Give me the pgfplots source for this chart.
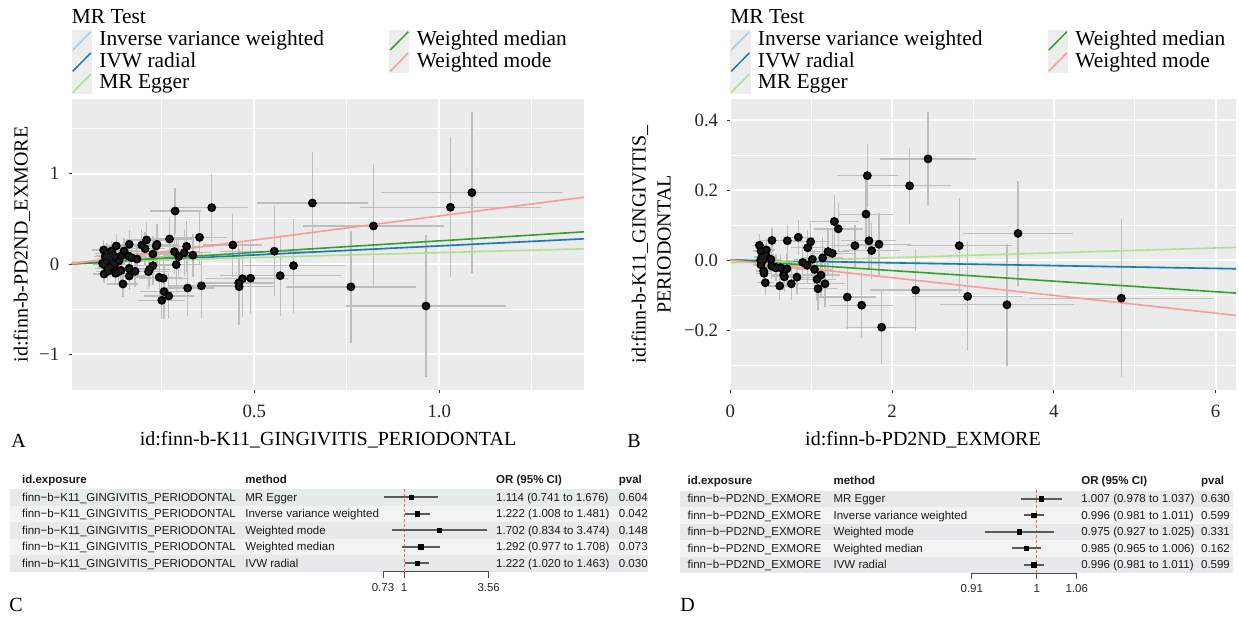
\documentclass[border=0pt]{standalone}
\usepackage{fontspec}
\setmainfont{Liberation Serif}
\newfontfamily\tabsans{Liberation Sans}
\usepackage{pgfplots}
\usepackage{pgfplotstable}
\pgfplotsset{compat=1.18}

\definecolor{ggbg}{HTML}{EBEBEB}
\definecolor{keybg}{HTML}{EDEDED}
\definecolor{errgray}{HTML}{BEBEBE}
\definecolor{ptblack}{HTML}{1A1A1A}
\definecolor{ivwlight}{HTML}{A6CEE3}
\definecolor{ivwdark}{HTML}{1F78B4}
\definecolor{eggergreen}{HTML}{B2DF8A}
\definecolor{wmedgreen}{HTML}{33A02C}
\definecolor{wmodepink}{HTML}{FB9A99}
\definecolor{rowdark}{HTML}{E6EAEB}
\definecolor{rowlight}{HTML}{F2F4F4}
\definecolor{refred}{HTML}{EE6A4D}
\definecolor{cigray}{HTML}{5A5A5A}

\newcommand{\titlefont}{\fontsize{10}{12}\selectfont}
\newcommand{\legfont}{\fontsize{10.7}{12}\selectfont}
\newcommand{\tickfont}{\fontsize{9.4}{11}\selectfont}
\newcommand{\tabfont}{\tabsans\fontsize{5.75}{7}\selectfont}

% SNP estimates: beta on exposure (x), beta on outcome (y), their se (ex, ey)
\pgfplotstableread{
x y ex ey
1.088 0.790 0.246 0.895
1.030 0.628 0.244 0.775
0.822 0.421 0.190 0.683
0.657 0.675 0.150 0.563
0.761 -0.253 0.175 0.620
0.964 -0.465 0.217 0.785
0.385 0.624 0.097 0.375
0.286 0.587 0.069 0.260
0.352 0.295 0.075 0.308
0.442 0.210 0.080 0.354
0.554 0.142 0.146 0.500
0.606 -0.018 0.140 0.520
0.570 -0.129 0.164 0.452
0.490 -0.157 0.100 0.400
0.468 -0.163 0.100 0.420
0.458 -0.209 0.095 0.420
0.459 -0.251 0.095 0.420
0.357 -0.242 0.090 0.360
0.320 -0.266 0.070 0.310
0.254 -0.158 0.065 0.280
0.243 -0.147 0.062 0.270
0.256 -0.306 0.065 0.300
0.269 -0.354 0.068 0.250
0.250 -0.402 0.064 0.210
0.289 -0.007 0.070 0.300
0.311 0.125 0.072 0.260
0.317 0.195 0.074 0.280
0.334 0.097 0.078 0.240
0.296 0.082 0.070 0.220
0.284 0.137 0.068 0.250
0.271 0.277 0.066 0.240
0.237 0.218 0.060 0.220
0.235 0.200 0.060 0.200
0.209 0.266 0.055 0.200
0.196 0.210 0.052 0.180
0.205 0.169 0.054 0.190
0.226 0.111 0.058 0.200
0.226 -0.018 0.058 0.210
0.217 -0.059 0.056 0.200
0.214 -0.085 0.056 0.190
0.178 -0.081 0.048 0.170
0.162 -0.133 0.045 0.160
0.162 -0.048 0.045 0.150
0.145 -0.221 0.042 0.140
0.162 0.218 0.045 0.160
0.183 0.055 0.050 0.170
0.168 0.070 0.046 0.150
0.148 0.144 0.042 0.140
0.127 0.200 0.038 0.130
0.140 0.089 0.040 0.130
0.134 0.033 0.039 0.120
0.123 -0.004 0.037 0.120
0.140 -0.070 0.040 0.130
0.133 -0.085 0.039 0.120
0.125 -0.103 0.037 0.120
0.111 -0.033 0.034 0.110
0.104 -0.081 0.033 0.110
0.094 -0.111 0.031 0.100
0.094 -0.007 0.031 0.100
0.093 0.155 0.031 0.110
0.102 0.118 0.032 0.110
0.106 0.089 0.033 0.100
0.114 0.144 0.035 0.110
0.117 0.107 0.035 0.100
0.097 0.081 0.031 0.100
0.109 0.063 0.034 0.100
0.115 0.026 0.035 0.100
0.099 0.026 0.032 0.100
0.090 0.007 0.030 0.090
0.103 -0.048 0.033 0.100
0.123 0.081 0.037 0.110
0.160 0.089 0.045 0.140
}\snpsA

\pgfplotstableread{
x y ex ey
2.444 0.289 0.595 0.133
1.694 0.241 0.380 0.090
2.217 0.212 0.505 0.108
1.677 0.131 0.340 0.100
1.286 0.110 0.310 0.076
1.335 0.089 0.300 0.074
2.830 0.041 0.650 0.136
2.934 -0.104 0.690 0.156
2.291 -0.086 0.570 0.117
1.871 -0.192 0.440 0.105
1.446 -0.106 0.350 0.090
1.624 -0.129 0.390 0.095
1.541 0.041 0.300 0.060
1.714 0.055 0.340 0.080
1.747 0.027 0.350 0.080
1.838 0.045 0.400 0.090
1.261 0.019 0.270 0.070
1.207 0.024 0.260 0.065
1.142 0.006 0.250 0.060
1.171 -0.068 0.250 0.065
1.084 -0.082 0.240 0.060
1.072 -0.055 0.235 0.060
1.121 -0.043 0.240 0.060
1.042 -0.027 0.230 0.055
1.014 0.002 0.225 0.055
0.994 0.052 0.220 0.055
0.956 0.035 0.210 0.050
0.950 -0.015 0.210 0.050
0.895 -0.007 0.200 0.050
0.841 0.065 0.190 0.050
0.824 -0.049 0.185 0.048
0.754 -0.068 0.170 0.045
0.700 -0.025 0.160 0.045
0.705 0.055 0.160 0.045
0.660 -0.043 0.150 0.042
0.668 -0.048 0.150 0.042
0.611 -0.074 0.140 0.040
0.623 -0.022 0.140 0.040
0.557 -0.022 0.130 0.038
0.511 -0.017 0.120 0.036
0.515 0.056 0.120 0.036
0.503 0.002 0.120 0.035
0.433 -0.065 0.105 0.034
0.417 -0.038 0.100 0.033
0.412 -0.031 0.100 0.033
0.379 -0.014 0.095 0.032
0.359 0.042 0.090 0.032
0.379 0.026 0.095 0.032
0.392 0.009 0.095 0.032
0.412 0.005 0.100 0.032
0.445 0.029 0.105 0.033
0.437 0.015 0.105 0.033
0.400 -0.001 0.098 0.032
0.375 -0.001 0.092 0.031
0.573 -0.022 0.132 0.038
3.556 0.076 0.680 0.151
3.420 -0.128 0.830 0.174
4.833 -0.109 1.130 0.225
}\snpsB

\pgfplotsset{
  mrscatter/.style={
    scale only axis, clip=true,
    axis background/.style={fill=ggbg},
    axis line style={draw=none},
    xmajorgrids, ymajorgrids, xminorgrids, yminorgrids,
    major grid style={white, line width=1pt},
    minor grid style={white, line width=0.5pt},
    tick align=outside, tick pos=left,
    major tick length=1.5pt, minor tick length=0pt,
    tick style={black!80, line width=0.5pt},
    xticklabel style={font=\tickfont, inner sep=0pt, yshift=-5.8pt, text=black!85},
    yticklabel style={font=\tickfont, inner sep=0pt, text=black!85},
    legend style={draw=none, fill=none, anchor=north west, inner sep=0pt, outer sep=0pt,
      row sep=0pt, column sep=0pt, font=\legfont,
      nodes={inner sep=0pt, inner xsep=3.7pt, text height=7.6pt, text depth=2.6pt}},
    legend cell align=left, legend columns=2,
    legend image code/.code={
      \fill[keybg, draw=none] (0pt,-5.3pt) rectangle (10.25pt,5.3pt);
      \draw[line width=0.75pt] (0.6pt,-4.6pt) -- (9.65pt,4.6pt);
    },
  },
  snpbars/.style={forget plot, only marks, mark=none,
    error bars/.cd, x dir=both, x explicit, y dir=both, y explicit, error mark=none,
    error bar style={errgray, line width=0.65pt}},
  forestax/.style={
    scale only axis, clip=false,
    ymin=0.5, ymax=5.5, height=41.25pt,
    axis x line*=bottom, axis y line=none,
    x axis line style={-, black!70, line width=0.5pt},
    ytick=\empty, xminorticks=false,
    tick align=outside, major tick length=3pt,
    xtick style={black!70, line width=0.5pt},
    xticklabel style={font=\tabfont, inner sep=0pt, yshift=-2.75pt, text=black!85},
  },
}

\begin{document}
\begin{tikzpicture}
\useasboundingbox (0,0) rectangle (619.5pt,309pt);

% ---------- table shading (C and D) ----------
\fill[rowdark]  (5pt,56.25pt) rectangle (324pt,64.5pt);
\fill[rowlight] (5pt,48pt)    rectangle (324pt,56.25pt);
\fill[rowdark]  (5pt,39.75pt) rectangle (324pt,48pt);
\fill[rowlight] (5pt,31.5pt)  rectangle (324pt,39.75pt);
\fill[rowdark]  (5pt,23.25pt) rectangle (324pt,31.5pt);
\fill[rowdark]  (340pt,55.5pt)  rectangle (616.5pt,63.75pt);
\fill[rowlight] (340pt,47.25pt) rectangle (616.5pt,55.5pt);
\fill[rowdark]  (340pt,39pt)    rectangle (616.5pt,47.25pt);
\fill[rowlight] (340pt,30.75pt) rectangle (616.5pt,39pt);
\fill[rowdark]  (340pt,22.5pt)  rectangle (616.5pt,30.75pt);

% ---------- A ----------
\begin{axis}[mrscatter, at={(35.75pt,114pt)}, anchor=south west,
  width=256.25pt, height=145.5pt,
  xmin=0.006, xmax=1.391, ymin=-1.395, ymax=1.827,
  xtick={0.5,1}, xticklabels={0.5,1.0}, minor xtick={0.25,0.75,1.25},
  ytick={-1,0,1}, yticklabels={−1,0,1}, minor ytick={-0.5,0.5,1.5},
  yticklabel style={xshift=-4.45pt},
  legend style={at={(axis description cs:0,1.236)}}]
\addlegendimage{ivwlight}\addlegendentry{\makebox[141.1pt][l]{Inverse variance weighted}}
\addlegendimage{wmedgreen}\addlegendentry{Weighted median}
\addlegendimage{ivwdark}\addlegendentry{\makebox[141.1pt][l]{IVW radial}}
\addlegendimage{wmodepink}\addlegendentry{Weighted mode}
\addlegendimage{eggergreen}\addlegendentry{\makebox[141.1pt][l]{MR Egger}}
\addplot[snpbars] table[x=x, y=y, x error=ex, y error=ey] {\snpsA};
\addplot[forget plot, only marks, mark=*, mark size=1pt, color=ptblack] table[x=x, y=y] {\snpsA};
\addplot[forget plot, ivwlight, line width=0.8pt]   coordinates {(0,0) (1.45,0.2907)};
\addplot[forget plot, ivwdark, line width=0.8pt]    coordinates {(0,0) (1.45,0.2907)};
\addplot[forget plot, eggergreen, line width=0.8pt] coordinates {(0,0.018) (1.45,0.1746)};
\addplot[forget plot, wmedgreen, line width=0.8pt]  coordinates {(0,0) (1.45,0.3715)};
\addplot[forget plot, wmodepink, line width=0.8pt]  coordinates {(0,0) (1.45,0.7711)};
\end{axis}

% ---------- B ----------
\begin{axis}[mrscatter, at={(364.75pt,114pt)}, anchor=south west,
  width=253.25pt, height=145.5pt,
  xmin=-0.0099, xmax=6.251, ymin=-0.3714, ymax=0.46,
  xtick={0,2,4,6}, xticklabels={0,2,4,6}, minor xtick={1,3,5},
  ytick={-0.2,0,0.2,0.4}, yticklabels={−0.2,0.0,0.2,0.4}, minor ytick={-0.3,-0.1,0.1,0.3},
  yticklabel style={xshift=-4pt},
  legend style={at={(axis description cs:0.001,1.236)}}]
\addlegendimage{ivwlight}\addlegendentry{\makebox[141.1pt][l]{Inverse variance weighted}}
\addlegendimage{wmedgreen}\addlegendentry{Weighted median}
\addlegendimage{ivwdark}\addlegendentry{\makebox[141.1pt][l]{IVW radial}}
\addlegendimage{wmodepink}\addlegendentry{Weighted mode}
\addlegendimage{eggergreen}\addlegendentry{\makebox[141.1pt][l]{MR Egger}}
\addplot[snpbars] table[x=x, y=y, x error=ex, y error=ey] {\snpsB};
\addplot[forget plot, only marks, mark=*, mark size=1pt, color=ptblack] table[x=x, y=y] {\snpsB};
\addplot[forget plot, ivwlight, line width=0.8pt]   coordinates {(0,0) (6.4,-0.02565)};
\addplot[forget plot, ivwdark, line width=0.8pt]    coordinates {(0,0) (6.4,-0.02565)};
\addplot[forget plot, eggergreen, line width=0.8pt] coordinates {(0,-0.0074) (6.4,0.0372)};
\addplot[forget plot, wmedgreen, line width=0.8pt]  coordinates {(0,0) (6.4,-0.0967)};
\addplot[forget plot, wmodepink, line width=0.8pt]  coordinates {(0,0) (6.4,-0.1620)};
\end{axis}

% ---------- C forest ----------
\begin{axis}[xmode=log, forestax, at={(191.5pt,23.25pt)}, anchor=south west, width=52.85pt,
  xmin=0.73, xmax=3.56, xtick={0.73,1,3.56}, xticklabels={0.73,1,3.56}]
\addplot[refred, line width=0.5pt, dash pattern=on 1.5pt off 1pt] coordinates {(1,0.5) (1,5.5)};
\addplot[cigray, line width=0.8pt] coordinates {(0.741,5) (1.676,5)};
\addplot[cigray, line width=0.8pt] coordinates {(1.008,4) (1.481,4)};
\addplot[cigray, line width=0.8pt] coordinates {(0.834,3) (3.474,3)};
\addplot[cigray, line width=0.8pt] coordinates {(0.977,2) (1.708,2)};
\addplot[cigray, line width=0.8pt] coordinates {(1.020,1) (1.463,1)};
\addplot[only marks, mark=square*, mark size=1.1pt, black]
  coordinates {(1.114,5) (1.222,4) (1.702,3) (1.292,2) (1.222,1)};
\end{axis}

% ---------- D forest ----------
\begin{axis}[xmode=log, forestax, at={(485.9pt,22.5pt)}, anchor=south west, width=52.5pt,
  xmin=0.91, xmax=1.06, xtick={0.91,1,1.06}, xticklabels={0.91,1,1.06}]
\addplot[refred, line width=0.5pt, dash pattern=on 1.5pt off 1pt] coordinates {(1,0.5) (1,5.5)};
\addplot[cigray, line width=0.8pt] coordinates {(0.978,5) (1.037,5)};
\addplot[cigray, line width=0.8pt] coordinates {(0.981,4) (1.011,4)};
\addplot[cigray, line width=0.8pt] coordinates {(0.927,3) (1.025,3)};
\addplot[cigray, line width=0.8pt] coordinates {(0.965,2) (1.006,2)};
\addplot[cigray, line width=0.8pt] coordinates {(0.981,1) (1.011,1)};
\addplot[only marks, mark=square*, mark size=1.1pt, black]
  coordinates {(1.007,5) (0.996,4) (0.975,3) (0.985,2) (0.996,1)};
\end{axis}

% ---------- table text ----------
\begin{scope}[every node/.style={font=\tabfont, inner sep=0pt, anchor=base west, text=black!90}]
\node at (10.85pt,67.45pt) {\textbf{id.exposure}};
\node at (122.5pt,67.45pt) {\textbf{method}};
\node at (247.9pt,67.45pt) {\textbf{OR (95\% CI)}};
\node at (309.25pt,67.45pt) {\textbf{pval}};
\node at (10.85pt,58.3pt)  {finn−b−K11\_GINGIVITIS\_PERIODONTAL};
\node at (10.85pt,50.05pt) {finn−b−K11\_GINGIVITIS\_PERIODONTAL};
\node at (10.85pt,41.8pt)  {finn−b−K11\_GINGIVITIS\_PERIODONTAL};
\node at (10.85pt,33.55pt) {finn−b−K11\_GINGIVITIS\_PERIODONTAL};
\node at (10.85pt,25.3pt)  {finn−b−K11\_GINGIVITIS\_PERIODONTAL};
\node at (122.5pt,58.3pt)  {MR Egger};
\node at (122.5pt,50.05pt) {Inverse variance weighted};
\node at (122.5pt,41.8pt)  {Weighted mode};
\node at (122.5pt,33.55pt) {Weighted median};
\node at (122.5pt,25.3pt)  {IVW radial};
\node at (247.9pt,58.3pt)  {1.114 (0.741 to 1.676)};
\node at (247.9pt,50.05pt) {1.222 (1.008 to 1.481)};
\node at (247.9pt,41.8pt)  {1.702 (0.834 to 3.474)};
\node at (247.9pt,33.55pt) {1.292 (0.977 to 1.708)};
\node at (247.9pt,25.3pt)  {1.222 (1.020 to 1.463)};
\node at (309.25pt,58.3pt)  {0.604};
\node at (309.25pt,50.05pt) {0.042};
\node at (309.25pt,41.8pt)  {0.148};
\node at (309.25pt,33.55pt) {0.073};
\node at (309.25pt,25.3pt)  {0.030};
\node at (343.6pt,66.7pt) {\textbf{id.exposure}};
\node at (416.6pt,66.7pt) {\textbf{method}};
\node at (540.45pt,66.7pt) {\textbf{OR (95\% CI)}};
\node at (600.35pt,66.7pt) {\textbf{pval}};
\node at (343.6pt,57.55pt) {finn−b−PD2ND\_EXMORE};
\node at (343.6pt,49.3pt)  {finn−b−PD2ND\_EXMORE};
\node at (343.6pt,41.05pt) {finn−b−PD2ND\_EXMORE};
\node at (343.6pt,32.8pt)  {finn−b−PD2ND\_EXMORE};
\node at (343.6pt,24.55pt) {finn−b−PD2ND\_EXMORE};
\node at (416.6pt,57.55pt) {MR Egger};
\node at (416.6pt,49.3pt)  {Inverse variance weighted};
\node at (416.6pt,41.05pt) {Weighted mode};
\node at (416.6pt,32.8pt)  {Weighted median};
\node at (416.6pt,24.55pt) {IVW radial};
\node at (540.45pt,57.55pt) {1.007 (0.978 to 1.037)};
\node at (540.45pt,49.3pt)  {0.996 (0.981 to 1.011)};
\node at (540.45pt,41.05pt) {0.975 (0.927 to 1.025)};
\node at (540.45pt,32.8pt)  {0.985 (0.965 to 1.006)};
\node at (540.45pt,24.55pt) {0.996 (0.981 to 1.011)};
\node at (600.35pt,57.55pt) {0.630};
\node at (600.35pt,49.3pt)  {0.599};
\node at (600.35pt,41.05pt) {0.331};
\node at (600.35pt,32.8pt)  {0.162};
\node at (600.35pt,24.55pt) {0.599};
\end{scope}

% ---------- titles and panel letters ----------
\begin{scope}[every node/.style={inner sep=0pt}]
\node[font=\legfont, anchor=base west] at (35.75pt,297.35pt) {MR Test};
\node[font=\legfont, anchor=base west] at (365pt,297.35pt) {MR Test};
\node[font=\titlefont, anchor=base] at (164pt,86.5pt) {id:finn-b-K11\_GINGIVITIS\_PERIODONTAL};
\node[font=\titlefont, anchor=base] at (461.5pt,86.5pt) {id:finn-b-PD2ND\_EXMORE};
\node[font=\titlefont, anchor=base, rotate=90] at (13.75pt,186.75pt) {id:finn-b-PD2ND\_EXMORE};
\node[font=\titlefont, anchor=base, rotate=90] at (322.75pt,186.75pt) {id:finn-b-K11\_GINGIVITIS\_};
\node[font=\titlefont, anchor=base, rotate=90] at (335.25pt,186.75pt) {PERIODONTAL};
\node[font=\titlefont, anchor=base west] at (5.5pt,85.5pt) {A};
\node[font=\titlefont, anchor=base west] at (313.5pt,85.5pt) {B};
\node[font=\titlefont, anchor=base west] at (4.5pt,3.5pt) {C};
\node[font=\titlefont, anchor=base west] at (340pt,3.5pt) {D};
\end{scope}
\end{tikzpicture}
\end{document}
